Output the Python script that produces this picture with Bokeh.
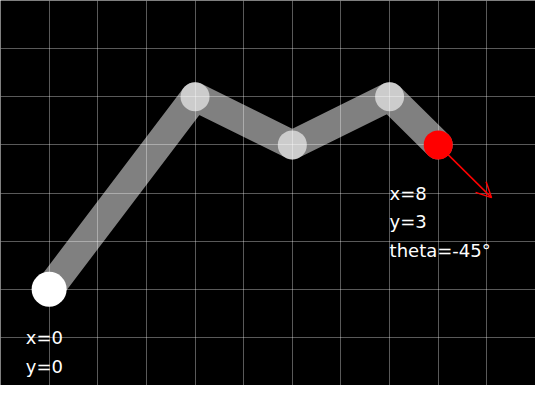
import math

from bokeh.core.properties import value
from bokeh.embed import file_html
from bokeh.models import Arrow, OpenHead, Range1d, SingleIntervalTicker
from bokeh.plotting import figure
from bokeh.resources import INLINE

# joint positions of the arm, base first, end effector last
joint_x = [0, 3, 5, 7, 8]
joint_y = [0, 4, 3, 4, 3]
end_theta = -45  # degrees
arrow_length = 1.55

FONT = value("DejaVu Sans")

p = figure(width=535, height=385, output_backend="svg", toolbar_location=None,
           x_range=Range1d(-1, 10), y_range=Range1d(-2, 6),
           background_fill_color="black", border_fill_color="black",
           min_border=0, outline_line_color=None)
p.xaxis.visible = False
p.yaxis.visible = False
for g in (p.xgrid, p.ygrid):
    g.ticker = SingleIntervalTicker(interval=1)
    g.grid_line_color = "white"
    g.grid_line_alpha = 0.35
    g.grid_line_width = 1

# arm segments
p.line(joint_x, joint_y, line_width=29, line_color="white", line_alpha=0.5,
       line_join="round", line_cap="round")
# inner joints
p.scatter(joint_x[1:-1], joint_y[1:-1], size=29, fill_color="white", fill_alpha=0.6,
          line_color=None)

# direction arrow of the end effector
ex, ey = joint_x[-1], joint_y[-1]
dx = arrow_length * math.cos(math.radians(end_theta))
dy = arrow_length * math.sin(math.radians(end_theta))
p.add_layout(Arrow(x_start=ex, y_start=ey, x_end=ex + dx, y_end=ey + dy,
                   line_color="red", line_width=1.5, level="glyph",
                   end=OpenHead(line_color="red", line_width=1.5, size=15)))

# base and end effector
p.scatter([joint_x[0]], [joint_y[0]], size=35, fill_color="white", line_color=None)
p.scatter([ex], [ey], size=29, fill_color="red", line_color=None)

# labels
bx, by = joint_x[0], joint_y[0]
base_text = ["x=%d" % bx, "y=%d" % by]
end_text = ["x=%d" % ex, "y=%d" % ey, "theta=%d\u00b0" % end_theta]
p.text([bx - 0.48] * 2, [by - 1.0 - 0.6 * i for i in range(2)], text=base_text,
       text_color="white", text_font=FONT, text_font_size="18px",
       text_baseline="alphabetic")
p.text([ex - 1.0] * 3, [ey - 1.0 - 0.6 * i for i in range(3)], text=end_text,
       text_color="white", text_font=FONT, text_font_size="18px",
       text_baseline="alphabetic")

open("out.html", "w").write(file_html(p, INLINE))
